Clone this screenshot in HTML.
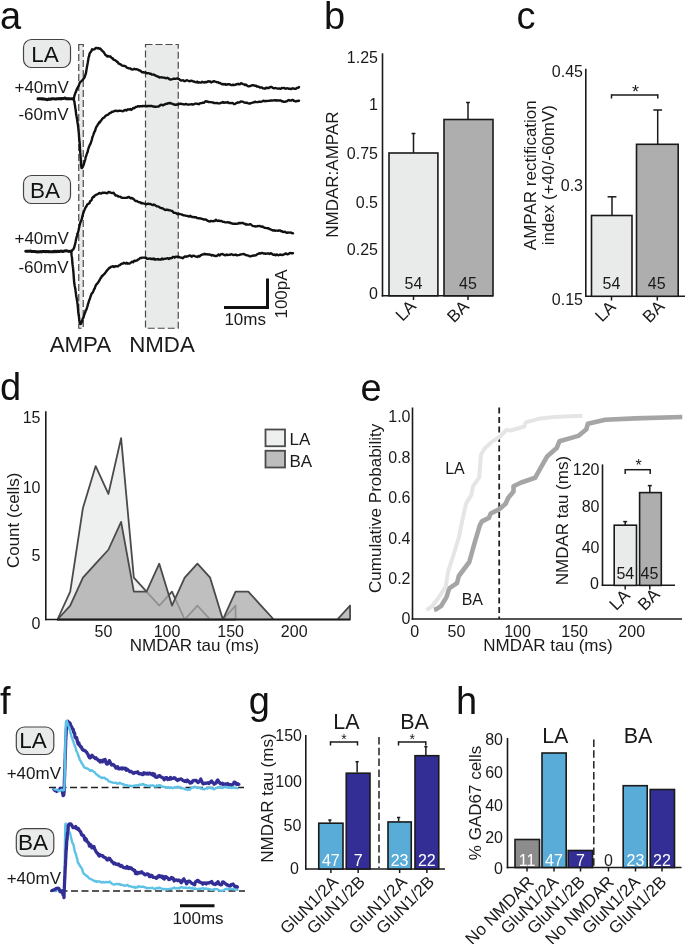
<!DOCTYPE html>
<html><head><meta charset="utf-8"><title>Figure</title>
<style>html,body{margin:0;padding:0;background:#fff;width:685px;height:944px;overflow:hidden}svg{display:block;font-family:"Liberation Sans",sans-serif;filter:blur(0.35px)}</style>
</head><body>
<svg width="685" height="944" viewBox="0 0 685 944" font-family='"Liberation Sans", sans-serif'>
<text x="0" y="29" font-size="38" text-anchor="start" fill="#111">a</text>
<text x="324" y="29" font-size="38" text-anchor="start" fill="#111">b</text>
<text x="516.5" y="28.5" font-size="38" text-anchor="start" fill="#111">c</text>
<text x="0" y="400" font-size="38" text-anchor="start" fill="#111">d</text>
<text x="360.6" y="401" font-size="38" text-anchor="start" fill="#111">e</text>
<text x="0" y="714" font-size="38" text-anchor="start" fill="#111">f</text>
<text x="248.7" y="714.3" font-size="38" text-anchor="start" fill="#111">g</text>
<text x="456" y="714" font-size="38" text-anchor="start" fill="#111">h</text>
<rect x="78.75" y="44.5" width="4.5" height="283.75" fill="#e9ebea" stroke="#4a4a4a" stroke-width="1.2" stroke-dasharray="7 3"/>
<rect x="145.5" y="44.5" width="32.75" height="283.75" fill="#e9ebea" stroke="#4a4a4a" stroke-width="1.2" stroke-dasharray="7 3"/>
<rect x="23.5" y="39.5" width="47" height="28" fill="#e9ebea" stroke="#444" stroke-width="1.2" rx="8"/>
<text x="45.1" y="61.7" font-size="22.5" text-anchor="middle" fill="#111">LA</text>
<rect x="23.5" y="175.5" width="47" height="28" fill="#e9ebea" stroke="#444" stroke-width="1.2" rx="8"/>
<text x="45.1" y="197.7" font-size="22.5" text-anchor="middle" fill="#111">BA</text>
<text x="68.8" y="93" font-size="17" text-anchor="end" fill="#1a1a1a">+40mV</text>
<text x="68.5" y="119.5" font-size="17" text-anchor="end" fill="#1a1a1a">-60mV</text>
<text x="68.8" y="243.7" font-size="17" text-anchor="end" fill="#1a1a1a">+40mV</text>
<text x="68.5" y="272.5" font-size="17" text-anchor="end" fill="#1a1a1a">-60mV</text>
<path d="M38 98.7 L39 98.72 L40 98.62 L41 98.78 L42 99.02 L43 98.83 L44 98.97 L45 99.3 L46 99.25 L47 99.69 L48 99.43 L49 98.99 L50 99.29 L51 99.2 L52 98.73 L53 98.63 L54 98.86 L55 98.99 L56 99.05 L57 98.8 L58 98.78 L59 98.77 L60 98.53 L61 98.99 L62 98.41 L63 98.6 L64 98.32 L65 98.03 L66 98.76 L67 98.62 L68 98.93 L69 98.61 L70 98.77 L71 98.87 L72 98.82 L73 98.9 L73.7 98.7" fill="none" stroke="#111" stroke-width="3" stroke-linejoin="round" stroke-linecap="round"/>
<path d="M73.7 98.7 L74.02 97.52 L74.35 96.22 L74.67 94.86 L74.99 94.23 L75.32 93.03 L75.64 92.06 L75.97 91.88 L76.3 90.57 L76.63 89.88 L76.97 88.91 L77.3 88.44 L77.64 87.69 L77.96 87.13 L78.29 86.58 L78.62 86.13 L78.98 84.87 L79.38 83.81 L79.83 82.5 L80.4 82.09 L81.14 81.45 L81.98 80.67 L82.82 79.74 L83.52 78.69 L84.06 78.12 L84.53 77.26 L84.91 76.08 L85.24 75.16 L85.52 74.25 L85.78 74.01 L86 72.83 L86.21 71.62 L86.39 70.31 L86.57 69.26 L86.74 68.26 L86.9 67.22 L87.07 66.37 L87.23 65.37 L87.4 64.88 L87.58 63.59 L87.77 62.73 L87.96 61.08 L88.17 60.44 L88.37 58.91 L88.57 57.64 L88.77 56.93 L89 56.7 L89.25 55.19 L89.55 53.88 L89.9 52.97 L90.33 52.41 L90.84 51.73 L91.44 50.93 L92.11 49.32 L92.87 49.47 L93.71 49.48 L94.63 49.18 L95.62 48.04 L96.62 47.94 L97.61 48.35 L98.56 48.08 L99.43 48.81 L100.23 48.41 L101.02 49.41 L101.82 50.46 L102.61 51.21 L103.39 51.8 L104.17 52.94 L104.95 54.18 L105.73 55.25 L106.53 55.44 L107.33 56.52 L108.13 55.92 L108.94 56.45 L109.74 56.54 L110.53 56.54 L111.32 57.63 L112.08 58.21 L112.77 58.16 L113.46 59.61 L114.24 59.92 L115.08 60.23 L115.95 60.77 L116.84 61.59 L117.74 62.09 L118.63 63.51 L119.53 64.11 L120.42 64.12 L121.3 65 L122.18 65.66 L123.06 65.83 L123.94 65.81 L124.83 65.99 L125.73 66.36 L126.64 67.64 L127.57 67.83 L128.51 68.28 L129.46 68.34 L130.42 68.5 L131.38 69.35 L132.35 69.44 L133.32 69.42 L134.29 68.81 L135.26 69.25 L136.25 69.14 L137.24 69.4 L138.23 69.83 L139.21 70.5 L140.19 70.47 L141.16 71.45 L142.13 72.23 L143.09 72.16 L144.05 72.67 L145.02 72.49 L145.98 72.69 L146.94 73.41 L147.91 73.17 L148.87 73.12 L149.84 73.84 L150.81 73.7 L151.77 74.6 L152.74 74.66 L153.7 74.55 L154.67 75.22 L155.63 75.6 L156.6 76.08 L157.56 76.53 L158.53 76.75 L159.5 77.52 L160.47 77.35 L161.44 77.26 L162.42 77.46 L163.39 77.63 L164.37 77.58 L165.35 78.06 L166.34 78.22 L167.33 77.72 L168.31 78.22 L169.31 79.21 L170.3 79.61 L171.3 79.39 L172.29 79.2 L173.29 78.76 L174.28 78.82 L175.28 78.89 L176.28 78.55 L177.27 78.34 L178.26 78.81 L179.26 79.21 L180.25 80.1 L181.25 80.55 L182.24 80.38 L183.24 80.27 L184.23 81.18 L185.22 81.05 L186.22 80.4 L187.21 80.28 L188.21 80.77 L189.2 81.19 L190.2 81.04 L191.19 80.66 L192.19 80.94 L193.18 81.51 L194.17 81.45 L195.17 82.04 L196.16 82.35 L197.16 81.61 L198.15 82.73 L199.15 82.24 L200.15 82.66 L201.14 82.67 L202.14 81.76 L203.13 82.21 L204.13 82.56 L205.12 81.88 L206.12 82.37 L207.12 81.95 L208.11 81.25 L209.11 81.55 L210.11 81.46 L211.1 82.42 L212.1 81.9 L213.1 81.51 L214.09 81.2 L215.09 81.66 L216.09 81.94 L217.08 82.3 L218.08 82.25 L219.08 82.98 L220.07 82.86 L221.07 83.7 L222.07 84.35 L223.06 83.94 L224.06 84.52 L225.06 83.9 L226.06 84.78 L227.05 84.5 L228.05 84.24 L229.05 84.26 L230.05 84.53 L231.04 84.94 L232.04 85.07 L233.04 84.73 L234.04 84.98 L235.03 84.85 L236.03 84.44 L237.03 84.3 L238.02 83.74 L239.02 84.38 L240.02 84.23 L241.01 83.21 L242.01 83.54 L243 84.12 L244 84.35 L245 85.05 L245.99 84.57 L246.99 85.45 L247.98 86.18 L248.98 86.43 L249.97 85.99 L250.97 85.89 L251.96 85.19 L252.95 85.26 L253.95 85.43 L254.94 85.77 L255.94 85.66 L256.93 86.66 L257.93 86.53 L258.92 86.84 L259.92 87.56 L260.91 87.54 L261.91 87.36 L262.9 88.34 L263.89 88.34 L264.88 88.73 L265.87 88.01 L266.86 87.73 L267.85 88 L268.84 88.04 L269.84 87.24 L270.84 87.03 L271.83 87.03 L272.83 87.95 L273.83 88.28 L274.83 88.1 L275.83 88.05 L276.83 88.34 L277.83 88.56 L278.83 88.33 L279.83 88.77 L280.83 88.77 L281.83 88.07 L282.83 88.14 L283.83 87.93 L284.83 88.43 L285.83 88.78 L286.82 88.26 L287.82 88.44 L288.82 88.74 L289.82 88.72 L290.82 89.14 L291.82 88.61 L292.82 88.26 L293.81 88.55 L294.81 88.87 L295.81 88.77 L296.81 88.01 L297.81 87.83 L298.81 87.42 L299 87" fill="none" stroke="#111" stroke-width="2.4" stroke-linejoin="round" stroke-linecap="round"/>
<path d="M73.7 98.7 L73.85 99.53 L74.01 100.45 L74.16 100.84 L74.32 101.62 L74.47 102.22 L74.63 103.25 L74.78 104.61 L74.94 105.6 L75.09 105.9 L75.25 107.81 L75.4 108.38 L75.55 109.21 L75.71 110.75 L75.86 111.86 L76.02 112.92 L76.18 114.57 L76.34 115.16 L76.5 115.94 L76.66 117.33 L76.82 117.88 L76.98 118.87 L77.13 119.61 L77.28 120.91 L77.43 122.12 L77.58 123.35 L77.71 123.3 L77.84 124.58 L77.97 125.36 L78.09 126.33 L78.2 127.69 L78.31 128.5 L78.42 128.95 L78.52 130.34 L78.62 131.54 L78.71 132.2 L78.8 132.81 L78.89 133.88 L78.98 135.59 L79.06 136.81 L79.15 138.09 L79.23 138.71 L79.32 139.78 L79.4 141.33 L79.48 141.36 L79.56 141.96 L79.63 142.67 L79.71 143.58 L79.78 144.69 L79.86 146.62 L79.93 147.35 L80 149.15 L80.07 149.31 L80.15 150.73 L80.22 151.75 L80.29 152.71 L80.36 153.19 L80.44 154.4 L80.51 155.15 L80.59 156.8 L80.67 158.1 L80.74 159.1 L80.81 160.75 L80.88 161.56 L80.94 162.64 L81 163.42 L81.07 164.21 L81.13 165.14 L81.21 165.93 L81.31 166.48 L81.49 167.85 L81.99 168 L82.64 167.13 L83.05 166.27 L83.41 165.26 L83.72 164.42 L84.01 163.8 L84.26 162.71 L84.5 161.57 L84.74 161.26 L84.97 160.25 L85.19 159.56 L85.42 158.55 L85.65 156.99 L85.89 156.58 L86.13 156.14 L86.39 155.21 L86.65 154.34 L86.92 153.65 L87.2 152.63 L87.48 152.22 L87.76 151.56 L88.05 149.69 L88.34 148.9 L88.64 147.71 L88.94 146.97 L89.25 146.27 L89.56 145.42 L89.88 144.73 L90.21 144.23 L90.53 143.78 L90.86 142.68 L91.2 141.68 L91.54 140.68 L91.88 139.58 L92.23 137.83 L92.59 136.74 L92.95 135.82 L93.32 134.79 L93.69 133.63 L94.08 132.94 L94.48 131.61 L94.88 131.24 L95.29 130.24 L95.71 128.49 L96.14 127.37 L96.59 126.5 L97.06 126.01 L97.56 125.13 L98.09 124.17 L98.65 123.54 L99.25 122.28 L99.9 122.55 L100.57 120.96 L101.28 120.32 L102 119.2 L102.74 118.29 L103.49 117.89 L104.25 117.52 L105 116.25 L105.75 115.92 L106.52 115.24 L107.31 114.88 L108.12 114.67 L108.96 113.65 L109.82 113.09 L110.72 112.87 L111.65 112 L112.59 111.78 L113.54 111.64 L114.51 110.84 L115.48 110.68 L116.45 110.95 L117.43 110.95 L118.41 110.93 L119.4 110.58 L120.4 110.73 L121.39 110.83 L122.39 111.21 L123.38 111.16 L124.37 110.1 L125.36 109.86 L126.34 110.58 L127.33 109.55 L128.31 109.4 L129.29 109.52 L130.26 108.89 L131.24 109.95 L132.22 109.12 L133.19 107.98 L134.16 108.2 L135.14 107.48 L136.11 106.89 L137.08 106.72 L138.05 106.1 L139.03 106.52 L140 106.23 L140.98 106.18 L141.96 106.21 L142.95 106.02 L143.95 106.18 L144.94 106.02 L145.94 105.99 L146.94 106.22 L147.94 106.05 L148.94 106.03 L149.94 105.98 L150.94 105.99 L151.94 105.98 L152.94 106.55 L153.94 106.52 L154.94 106.71 L155.94 106.88 L156.94 106.67 L157.94 106.61 L158.94 106.25 L159.94 105.47 L160.93 104.7 L161.92 104.85 L162.91 105.35 L163.9 104.75 L164.88 104.46 L165.87 103.86 L166.85 103.81 L167.84 103.32 L168.84 103.27 L169.83 103.03 L170.83 103.28 L171.83 103.69 L172.82 103.96 L173.82 104.6 L174.82 104.53 L175.82 104.97 L176.82 104.4 L177.82 104.48 L178.82 104.27 L179.82 103.72 L180.82 103.76 L181.82 104.06 L182.82 104.12 L183.82 104.47 L184.82 104.35 L185.82 103.97 L186.82 104.28 L187.82 104.66 L188.82 104.57 L189.82 104.33 L190.82 104.43 L191.82 104.13 L192.82 104.64 L193.82 104.26 L194.82 103.66 L195.82 103.65 L196.82 103.72 L197.82 103.85 L198.82 104.2 L199.82 103.47 L200.82 103.13 L201.81 102.97 L202.81 102.77 L203.81 102.76 L204.81 101.81 L205.81 101.28 L206.81 101.46 L207.81 101.73 L208.81 102.02 L209.81 102.11 L210.81 102.12 L211.81 102.38 L212.81 102.37 L213.81 102.98 L214.81 102.96 L215.81 103.08 L216.81 103.03 L217.81 103.26 L218.81 103.34 L219.81 103.4 L220.81 102.94 L221.81 102.68 L222.81 102.06 L223.81 102.82 L224.81 102.51 L225.81 102.36 L226.81 102.63 L227.81 102.07 L228.81 103.12 L229.81 103.16 L230.81 103.04 L231.81 103.18 L232.81 102.95 L233.81 104.03 L234.81 104.13 L235.81 103.32 L236.81 102.91 L237.81 102.35 L238.81 102.49 L239.81 102.2 L240.81 101.47 L241.81 101.6 L242.81 101.6 L243.81 102.33 L244.81 102.59 L245.81 102.76 L246.81 102.58 L247.81 103.08 L248.81 103.49 L249.81 103.61 L250.81 103.07 L251.81 102.84 L252.8 102.53 L253.8 102.39 L254.8 101.76 L255.8 102 L256.8 102.14 L257.8 102.04 L258.8 101.8 L259.8 101.61 L260.8 101.96 L261.8 101.5 L262.8 101.01 L263.8 100.77 L264.79 101.2 L265.79 101.05 L266.79 101.03 L267.79 100.87 L268.79 100.88 L269.79 100.7 L270.79 100.53 L271.79 100.39 L272.79 100.61 L273.79 100.36 L274.79 100.1 L275.79 100.65 L276.78 100.25 L277.78 100.45 L278.78 100.53 L279.78 100.38 L280.78 100.44 L281.78 101.31 L282.78 101.24 L283.78 101.89 L284.78 101.76 L285.78 101.46 L286.78 101.35 L287.78 100.51 L288.78 99.92 L289.78 100.6 L290.78 100.46 L291.78 100.27 L292.78 99.83 L293.78 100.74 L294.78 101.01 L295.78 101.5 L296.78 100.93 L297.78 101.04 L298.78 100.74 L299 100.7" fill="none" stroke="#111" stroke-width="2.4" stroke-linejoin="round" stroke-linecap="round"/>
<path d="M25.7 251.3 L26.7 251.28 L27.7 251.26 L28.7 251.36 L29.7 251.27 L30.7 250.98 L31.7 251.53 L32.7 251.45 L33.7 251.49 L34.7 251.4 L35.7 251.71 L36.7 251.83 L37.7 252.06 L38.7 251.67 L39.7 251.89 L40.7 251.57 L41.7 251.9 L42.7 251.44 L43.7 251.5 L44.7 251.45 L45.7 251.74 L46.7 251.42 L47.7 251.66 L48.7 251.55 L49.7 251.64 L50.7 251.66 L51.7 251.86 L52.7 251.57 L53.7 251.85 L54.7 251.19 L55.7 251.72 L56.7 251.44 L57.7 251.23 L58.7 251.57 L59.7 251.55 L60.7 250.99 L61.7 251.17 L62.7 251.49 L63.7 251.22 L64.7 250.92 L65.7 250.77 L66.7 250.83 L67.7 251.09 L68.7 251.4 L69.7 251.37 L70.7 251.24 L71.2 251.3" fill="none" stroke="#111" stroke-width="3" stroke-linejoin="round" stroke-linecap="round"/>
<path d="M71.2 251.3 L71.83 250.73 L72.45 250.01 L73.01 249.56 L73.48 249.08 L73.89 248.11 L74.27 247.32 L74.62 245.72 L74.96 244.7 L75.27 243.33 L75.58 241.97 L75.86 240.27 L76.14 239.08 L76.4 237.91 L76.65 236.89 L76.88 236.19 L77.12 235.31 L77.35 234.07 L77.57 233.6 L77.8 232.99 L78.03 232.64 L78.26 231.4 L78.5 230.52 L78.75 228.91 L79.02 228.12 L79.3 226.6 L79.6 225.09 L79.91 224 L80.2 222.91 L80.48 222 L80.74 221.76 L80.97 221.16 L81.2 220.57 L81.43 220.17 L81.65 219.19 L81.89 219.16 L82.13 217.45 L82.39 216.14 L82.67 215.4 L82.98 213.95 L83.32 213 L83.69 211.99 L84.13 210.71 L84.59 209.73 L85.07 208.57 L85.59 207.52 L86.12 206.84 L86.67 205.91 L87.23 204.57 L87.8 204.23 L88.38 203.89 L88.95 203.1 L89.52 203.26 L90.08 201.25 L90.62 201.18 L91.16 200.35 L91.69 199.96 L92.22 198.03 L92.77 197.71 L93.35 196.73 L93.98 196.85 L94.66 195.55 L95.39 195.32 L96.18 194.77 L97 194.41 L97.87 194 L98.79 193.4 L99.74 192.88 L100.72 193.62 L101.71 193.26 L102.71 192.63 L103.7 192.95 L104.7 192.64 L105.68 192.96 L106.67 193.29 L107.64 192.86 L108.62 192.03 L109.6 192.24 L110.58 192.54 L111.56 193.04 L112.53 193.08 L113.5 192.67 L114.47 193.88 L115.44 195.51 L116.4 195.47 L117.37 195.63 L118.34 196.47 L119.31 196.66 L120.28 196.71 L121.25 197.47 L122.22 197.84 L123.2 197.88 L124.17 197.84 L125.15 197.83 L126.12 197.81 L127.09 197.71 L128.05 197.15 L129.01 196.91 L129.98 197.89 L130.93 198.26 L131.88 197.91 L132.83 198.62 L133.78 199.16 L134.73 200.32 L135.68 201.07 L136.62 200.93 L137.57 201.44 L138.51 202.14 L139.46 202.18 L140.4 202.36 L141.35 203.25 L142.3 203.02 L143.25 203.38 L144.2 203.58 L145.16 203.86 L146.11 204.24 L147.07 204.09 L148.03 203.71 L148.99 203.94 L149.95 203.9 L150.91 204.12 L151.87 204.8 L152.84 205.08 L153.8 204.57 L154.76 204.95 L155.72 205.66 L156.69 206.41 L157.65 206.42 L158.61 206.66 L159.57 207.4 L160.54 207.76 L161.5 208.29 L162.46 208.2 L163.42 208.9 L164.38 209.58 L165.34 210.03 L166.31 209.72 L167.27 209.74 L168.23 209.97 L169.18 210.26 L170.14 210.41 L171.1 210.65 L172.04 210.84 L172.97 211.9 L173.89 212.82 L174.82 212.88 L175.76 212.96 L176.71 213.53 L177.67 214.2 L178.64 213.74 L179.61 213.97 L180.58 214.17 L181.55 214.34 L182.53 214.89 L183.5 215.3 L184.48 215.35 L185.45 215.58 L186.43 215.9 L187.41 215.86 L188.38 216.33 L189.36 216.57 L190.34 215.77 L191.32 216.66 L192.3 217.06 L193.27 216.86 L194.25 217.28 L195.23 217.32 L196.21 217.29 L197.19 218.15 L198.17 218.2 L199.15 218.44 L200.13 218.27 L201.11 218.75 L202.09 218.83 L203.07 219.26 L204.06 219.53 L205.04 219.55 L206.02 219.53 L207 220.4 L207.99 220.95 L208.97 221.42 L209.96 221.47 L210.94 220.83 L211.93 221.07 L212.92 221.29 L213.91 220.9 L214.9 221.01 L215.89 219.76 L216.88 220.63 L217.87 220.97 L218.87 220.47 L219.86 221.04 L220.86 220.84 L221.86 221.15 L222.85 221.77 L223.85 221.84 L224.85 222.22 L225.84 222.32 L226.84 222.41 L227.84 222.14 L228.84 222.58 L229.83 222.52 L230.83 223.35 L231.83 223.2 L232.82 223.72 L233.82 223.6 L234.81 223.87 L235.81 223.6 L236.8 223.87 L237.79 223.63 L238.79 222.98 L239.78 223.21 L240.77 222.97 L241.77 223.08 L242.76 222.78 L243.75 223.65 L244.74 223.63 L245.73 224.49 L246.72 224.29 L247.71 224.58 L248.69 224.64 L249.68 224.32 L250.67 224.23 L251.66 225.23 L252.64 225.78 L253.63 226.14 L254.62 226.14 L255.6 226.51 L256.59 226.4 L257.58 226.04 L258.56 226.15 L259.55 225.97 L260.53 226.31 L261.52 226.74 L262.5 226.44 L263.49 227.28 L264.47 227.76 L265.45 227.88 L266.44 228.15 L267.42 228.24 L268.4 228.19 L269.38 229 L270.37 229.21 L271.35 229.7 L272.33 230.24 L273.31 230.5 L274.29 230.27 L275.27 230.7 L276.25 230.6 L277.23 230.61 L278.21 230.84 L279.18 230.48 L280.16 230.41 L281.14 231.23 L282.12 231.28 L283.1 232.04 L284.08 231.92 L285.05 231.73 L286.03 232.62 L287.01 232.76 L287.99 232.38 L288.97 232.63 L289.94 232.61 L290.92 232.57 L291.9 233.15 L292.88 233.12 L293 233.3" fill="none" stroke="#111" stroke-width="2.4" stroke-linejoin="round" stroke-linecap="round"/>
<path d="M71.2 251.3 L71.31 252.42 L71.42 253.71 L71.53 254.86 L71.65 255.66 L71.76 256.16 L71.87 256.95 L71.98 257.49 L72.09 258.99 L72.2 260.62 L72.31 262.45 L72.41 263.18 L72.52 264.23 L72.62 264.66 L72.72 265.41 L72.82 266.68 L72.91 267.26 L73 267.01 L73.08 268.89 L73.16 269.69 L73.24 270.45 L73.32 271.53 L73.39 271.59 L73.47 272.78 L73.55 274.06 L73.63 274.95 L73.71 276.56 L73.8 277.81 L73.89 278.74 L73.99 279.82 L74.09 281.62 L74.2 282.18 L74.32 283.89 L74.45 283.83 L74.59 284.77 L74.73 285.94 L74.88 286.9 L75.04 287.33 L75.21 288.58 L75.37 289.28 L75.54 290.76 L75.71 291.99 L75.88 293.31 L76.05 294.66 L76.22 295.59 L76.38 297.15 L76.54 297.46 L76.7 298.26 L76.84 299.58 L76.99 300.51 L77.12 300.9 L77.25 302.13 L77.36 302.74 L77.48 303.92 L77.58 304.29 L77.69 305.5 L77.79 306.35 L77.89 307.68 L77.99 309.1 L78.09 309.75 L78.2 311.6 L78.3 312.59 L78.42 313.23 L78.54 314.31 L78.68 314.96 L78.82 315.81 L78.97 317.19 L79.13 318.24 L79.29 319.71 L79.47 320.52 L79.65 322.83 L79.87 323.42 L80.14 323.89 L80.59 323.96 L81.27 323.47 L81.66 321.85 L82.01 321.53 L82.37 319.88 L82.74 318.68 L83.12 317.97 L83.48 317.65 L83.84 316.23 L84.19 314.91 L84.54 313.82 L84.88 312.96 L85.22 312.55 L85.55 310.36 L85.87 310.64 L86.19 309.87 L86.5 309.31 L86.79 308.25 L87.08 307.31 L87.35 306.65 L87.62 305.84 L87.9 304.18 L88.17 303.62 L88.44 302.96 L88.73 301.79 L89.02 300.81 L89.32 299.78 L89.64 299.31 L89.97 298.42 L90.32 297.23 L90.67 296.06 L91.03 295.18 L91.4 294.18 L91.78 293.47 L92.17 293.33 L92.57 292.64 L92.98 292.09 L93.41 291.21 L93.85 289.64 L94.31 288.94 L94.78 288.38 L95.27 286.53 L95.76 285.6 L96.28 284.51 L96.8 284.11 L97.33 283.5 L97.87 282.79 L98.42 281.9 L98.98 281.17 L99.54 280.15 L100.12 279.07 L100.71 277.89 L101.3 277.65 L101.91 275.94 L102.53 275.81 L103.14 275.23 L103.75 274.39 L104.35 274.16 L104.96 273.12 L105.59 272.48 L106.27 271.39 L106.98 270.49 L107.74 269.63 L108.55 268.81 L109.41 267.65 L110.3 267.51 L111.22 266.71 L112.16 266.6 L113.11 266.25 L114.08 267 L115.05 266.27 L116.02 266.26 L117 266.43 L117.98 266.22 L118.96 265.39 L119.94 265.17 L120.92 264.11 L121.9 263.72 L122.88 263.6 L123.85 262.75 L124.82 263.16 L125.79 263.52 L126.74 262.8 L127.7 263.74 L128.64 263.37 L129.59 263.51 L130.54 262.94 L131.48 262.17 L132.43 261.66 L133.38 262.14 L134.34 260.62 L135.31 260.98 L136.27 260.49 L137.23 260.48 L138.19 259.38 L139.16 259.16 L140.13 257.85 L141.11 258.1 L142.09 257.65 L143.09 257.62 L144.08 257.59 L145.08 257.76 L146.08 257.81 L147.08 258.81 L148.08 258.68 L149.07 258.63 L150.06 258.49 L151.05 259.11 L152.04 258.64 L153.03 259.19 L154.02 258.57 L155.01 259.74 L156 259.3 L157 259.43 L157.99 259.01 L158.99 259.65 L159.99 259.47 L160.99 259.61 L161.98 258.54 L162.97 259.35 L163.94 258.89 L164.91 258.78 L165.88 258.57 L166.83 258.45 L167.79 258.09 L168.75 258.9 L169.71 258.22 L170.69 258.25 L171.67 258.1 L172.67 257.05 L173.66 256.88 L174.66 257.64 L175.66 256.78 L176.66 256.6 L177.66 256.97 L178.66 256.69 L179.65 257.3 L180.65 257.52 L181.65 257.65 L182.65 258.19 L183.64 257.47 L184.64 256.55 L185.64 256.56 L186.64 256.7 L187.63 256.24 L188.63 256.03 L189.63 255.46 L190.63 255.64 L191.62 256.71 L192.62 255.88 L193.62 255.69 L194.62 256.1 L195.61 256.46 L196.61 256.61 L197.61 257.03 L198.6 255.92 L199.6 256.53 L200.59 255.41 L201.59 254.87 L202.59 254.45 L203.59 254.41 L204.59 253.71 L205.59 254.38 L206.59 254.18 L207.59 254.46 L208.59 254.4 L209.59 254.48 L210.59 254.84 L211.59 255.52 L212.59 254.94 L213.59 255.6 L214.59 255.75 L215.59 255.96 L216.59 255.98 L217.59 255.42 L218.59 254.45 L219.59 255.51 L220.59 254.5 L221.59 254.16 L222.59 254.04 L223.59 254.65 L224.59 255.07 L225.59 255.31 L226.59 254.51 L227.59 255.07 L228.59 254.83 L229.59 254.85 L230.59 254.33 L231.59 254.27 L232.59 254.62 L233.59 255.11 L234.59 254.9 L235.59 254.52 L236.59 255.26 L237.59 255.18 L238.59 255.07 L239.59 254.86 L240.59 254.33 L241.59 254.38 L242.59 254.16 L243.59 254 L244.59 254.31 L245.59 255.03 L246.59 255.1 L247.59 255.5 L248.59 255.59 L249.59 256.34 L250.59 256.23 L251.59 255.95 L252.59 255.89 L253.59 255.41 L254.59 255.56 L255.59 255.42 L256.59 254.75 L257.59 254.06 L258.59 253.68 L259.59 253.18 L260.59 253.64 L261.59 252.9 L262.59 252.92 L263.59 253.63 L264.59 253.38 L265.58 253.92 L266.58 253.63 L267.58 253.35 L268.58 253.46 L269.58 254.03 L270.58 253.29 L271.58 253.43 L272.58 254.58 L273.58 254.7 L274.58 254.56 L275.57 255.36 L276.57 254.37 L277.57 254.94 L278.57 255.28 L279.57 254.69 L280.57 254.56 L281.56 254.97 L282.56 255 L283.56 254.58 L284.56 254.22 L285.56 253.44 L286.55 253.75 L287.55 254.41 L288.55 253.98 L289.55 253.12 L290.54 253 L291.54 253.29 L292.54 253.31 L293 253.3" fill="none" stroke="#111" stroke-width="2.4" stroke-linejoin="round" stroke-linecap="round"/>
<line x1="224" y1="307.5" x2="269" y2="307.5" stroke="#111" stroke-width="3"/>
<line x1="267.5" y1="278.5" x2="267.5" y2="309" stroke="#111" stroke-width="3"/>
<text x="245.2" y="325.3" font-size="17" text-anchor="middle" fill="#1a1a1a">10ms</text>
<text x="0" y="0" font-size="17" text-anchor="middle" fill="#1a1a1a" transform="translate(287 294) rotate(-90)">100pA</text>
<text x="80.4" y="352" font-size="22.3" text-anchor="middle" fill="#1a1a1a">AMPA</text>
<text x="162" y="352" font-size="22.3" text-anchor="middle" fill="#1a1a1a">NMDA</text>
<line x1="382.5" y1="53.3" x2="382.5" y2="296.6" stroke="#1a1a1a" stroke-width="1.6"/>
<line x1="381.7" y1="295.8" x2="493" y2="295.8" stroke="#1a1a1a" stroke-width="1.6"/>
<rect x="389" y="153" width="48.9" height="142.8" fill="#e9ebea" stroke="#1a1a1a" stroke-width="1.6"/>
<rect x="444" y="119.5" width="49" height="176.3" fill="#aeaeae" stroke="#1a1a1a" stroke-width="1.6"/>
<line x1="413.5" y1="153" x2="413.5" y2="133.5" stroke="#1a1a1a" stroke-width="1.5"/>
<line x1="411.6" y1="133.5" x2="415.4" y2="133.5" stroke="#1a1a1a" stroke-width="1.5"/>
<line x1="468" y1="119.5" x2="468" y2="102.5" stroke="#1a1a1a" stroke-width="1.5"/>
<line x1="466.1" y1="102.5" x2="469.9" y2="102.5" stroke="#1a1a1a" stroke-width="1.5"/>
<text x="378" y="62.9" font-size="16" text-anchor="end" fill="#1a1a1a">1.25</text>
<text x="378" y="109.5" font-size="16" text-anchor="end" fill="#1a1a1a">1</text>
<text x="378" y="158.9" font-size="16" text-anchor="end" fill="#1a1a1a">0.75</text>
<text x="378" y="208.4" font-size="16" text-anchor="end" fill="#1a1a1a">0.5</text>
<text x="378" y="254.7" font-size="16" text-anchor="end" fill="#1a1a1a">0.25</text>
<text x="378" y="299.1" font-size="16" text-anchor="end" fill="#1a1a1a">0</text>
<text x="413.5" y="289.3" font-size="16" text-anchor="middle" fill="#1a1a1a">54</text>
<text x="468" y="289.3" font-size="16" text-anchor="middle" fill="#1a1a1a">45</text>
<line x1="413.5" y1="295.8" x2="413.5" y2="300" stroke="#1a1a1a" stroke-width="1.5"/>
<line x1="468" y1="295.8" x2="468" y2="300" stroke="#1a1a1a" stroke-width="1.5"/>
<text x="0" y="0" font-size="17" text-anchor="middle" fill="#1a1a1a" transform="translate(337.8 174.6) rotate(-90)">NMDAR:AMPAR</text>
<text x="0" y="0" font-size="17" text-anchor="end" fill="#1a1a1a" transform="translate(417.1 307.2) rotate(-45)">LA</text>
<text x="0" y="0" font-size="17" text-anchor="end" fill="#1a1a1a" transform="translate(470 307.4) rotate(-45)">BA</text>
<line x1="585.8" y1="68.8" x2="585.8" y2="297.1" stroke="#1a1a1a" stroke-width="1.6"/>
<line x1="585" y1="296.3" x2="685" y2="296.3" stroke="#1a1a1a" stroke-width="1.6"/>
<rect x="591.5" y="215.5" width="40.5" height="80.8" fill="#e9ebea" stroke="#1a1a1a" stroke-width="1.6"/>
<rect x="636.5" y="144.3" width="41.7" height="152" fill="#aeaeae" stroke="#1a1a1a" stroke-width="1.6"/>
<line x1="612" y1="215.5" x2="612" y2="196.8" stroke="#1a1a1a" stroke-width="1.5"/>
<line x1="607.6" y1="196.8" x2="616.4" y2="196.8" stroke="#1a1a1a" stroke-width="1.5"/>
<line x1="657.7" y1="144.3" x2="657.7" y2="110" stroke="#1a1a1a" stroke-width="1.5"/>
<line x1="653.3" y1="110" x2="662.1" y2="110" stroke="#1a1a1a" stroke-width="1.5"/>
<line x1="611.5" y1="95" x2="657.8" y2="95" stroke="#1a1a1a" stroke-width="1.5"/>
<line x1="611.5" y1="94.3" x2="611.5" y2="98.5" stroke="#1a1a1a" stroke-width="1.5"/>
<line x1="657.8" y1="94.3" x2="657.8" y2="98.5" stroke="#1a1a1a" stroke-width="1.5"/>
<text x="635.5" y="97.5" font-size="18" text-anchor="middle" fill="#1a1a1a">*</text>
<text x="583" y="77.2" font-size="16" text-anchor="end" fill="#1a1a1a">0.45</text>
<text x="583" y="190.9" font-size="16" text-anchor="end" fill="#1a1a1a">0.3</text>
<text x="583" y="304.7" font-size="16" text-anchor="end" fill="#1a1a1a">0.15</text>
<text x="611.5" y="289.3" font-size="16" text-anchor="middle" fill="#1a1a1a">54</text>
<text x="656.7" y="289.3" font-size="16" text-anchor="middle" fill="#1a1a1a">45</text>
<line x1="611.5" y1="296.3" x2="611.5" y2="300.5" stroke="#1a1a1a" stroke-width="1.5"/>
<line x1="657.3" y1="296.3" x2="657.3" y2="300.5" stroke="#1a1a1a" stroke-width="1.5"/>
<text x="0" y="0" font-size="17" text-anchor="middle" fill="#1a1a1a" transform="translate(535.6 175.2) rotate(-90)">AMPAR rectification</text>
<text x="0" y="0" font-size="17" text-anchor="middle" fill="#1a1a1a" transform="translate(553.8 175.2) rotate(-90)">index (+40/-60mV)</text>
<text x="0" y="0" font-size="17" text-anchor="end" fill="#1a1a1a" transform="translate(616.8 308.1) rotate(-45)">LA</text>
<text x="0" y="0" font-size="17" text-anchor="end" fill="#1a1a1a" transform="translate(665.6 307.6) rotate(-45)">BA</text>
<path d="M57.5 619.5 L70.22 591.6 L82.94 507.9 L95.66 466.05 L108.38 493.95 L121.1 438.15 L133.82 577.65 L146.54 591.6 L159.26 605.55 L171.98 591.6 L184.7 619.5 L197.42 605.55 L210.14 619.5 L222.86 619.5 L235.58 605.55 L235.58 619.5 Z" fill="#eef0ef" stroke="#4a4a4a" stroke-width="1.8" stroke-linejoin="round"/>
<path d="M57.5 619.5 L70.22 605.55 L82.94 577.65 L95.66 563.7 L108.38 549.75 L121.1 521.85 L133.82 591.6 L146.54 591.6 L159.26 563.7 L171.98 605.55 L184.7 577.65 L197.42 563.7 L210.14 577.65 L222.86 619.5 L235.58 591.6 L248.3 591.6 L261.02 605.55 L273.74 619.5 L286.46 619.5 L299.18 619.5 L311.9 619.5 L324.62 619.5 L337.34 619.5 L350.06 605.55 L350.06 619.5 Z" fill="rgba(170,170,170,0.75)" stroke="#4a4a4a" stroke-width="1.8" stroke-linejoin="round"/>
<line x1="45.8" y1="411.3" x2="45.8" y2="620.3" stroke="#1a1a1a" stroke-width="1.6"/>
<line x1="45" y1="619.5" x2="350" y2="619.5" stroke="#1a1a1a" stroke-width="1.6"/>
<text x="40.5" y="423.3" font-size="16" text-anchor="end" fill="#1a1a1a">15</text>
<text x="40.5" y="492.6" font-size="16" text-anchor="end" fill="#1a1a1a">10</text>
<text x="40.5" y="560.6" font-size="16" text-anchor="end" fill="#1a1a1a">5</text>
<text x="40.5" y="628.6" font-size="16" text-anchor="end" fill="#1a1a1a">0</text>
<text x="103.4" y="636.5" font-size="16" text-anchor="middle" fill="#1a1a1a">50</text>
<text x="167" y="636.5" font-size="16" text-anchor="middle" fill="#1a1a1a">100</text>
<text x="230.6" y="636.5" font-size="16" text-anchor="middle" fill="#1a1a1a">150</text>
<text x="294.2" y="636.5" font-size="16" text-anchor="middle" fill="#1a1a1a">200</text>
<text x="194.5" y="651" font-size="17" text-anchor="middle" fill="#1a1a1a">NMDAR tau (ms)</text>
<text x="0" y="0" font-size="17" text-anchor="middle" fill="#1a1a1a" transform="translate(19.4 520.4) rotate(-90)">Count (cells)</text>
<rect x="265.5" y="429.5" width="19.5" height="16.75" fill="#eef0ef" stroke="#4a4a4a" stroke-width="1.8"/>
<rect x="265.5" y="450.75" width="19.5" height="16.75" fill="#bdbdbd" stroke="#4a4a4a" stroke-width="1.8"/>
<text x="289.5" y="444.5" font-size="17" text-anchor="start" fill="#1a1a1a">LA</text>
<text x="289.5" y="467" font-size="17" text-anchor="start" fill="#1a1a1a">BA</text>
<line x1="412.5" y1="407.5" x2="412.5" y2="619.8" stroke="#1a1a1a" stroke-width="1.6"/>
<line x1="411.7" y1="619" x2="682" y2="619" stroke="#1a1a1a" stroke-width="1.6"/>
<line x1="499.2" y1="407.5" x2="499.2" y2="619" stroke="#222" stroke-width="1.8" stroke-dasharray="6 3.5"/>
<path d="M434 609.8 L436 609.3 L441.3 605.8 L446.5 597.1 L449.2 588.3 L457 583.1 L458.8 576 L469.3 562 L474.6 542.8 L479.8 525.3 L481.9 521.4 L488.9 517.9 L490.7 513.5 L499.5 509.1 L505.6 503.8 L508.3 497.7 L513.5 491.5 L513.5 486.2 L520.6 482.7 L535.1 477.8 L541.9 465.6 L547.3 456.2 L556.7 448.1 L559.4 441.3 L578.3 435.9 L586.4 429.2 L587.8 423.8 L605.3 419.7 L635 418.4 L682.3 417" fill="none" stroke="#a5a5a5" stroke-width="4.6" stroke-linejoin="round" stroke-linecap="butt"/>
<path d="M426.4 610.2 L432.5 605.8 L437.8 598.8 L445.7 586.6 L448.3 570.8 L453.5 555 L458.8 537.5 L462.5 519.7 L466 503.8 L471.3 495 L473.1 486.2 L479.2 477.4 L481 454.5 L485.4 447.5 L492.4 441.4 L499.5 437 L506.5 430 L510.8 430.5 L524.3 426.5 L525.7 422.4 L540.5 418.4 L554 417 L582.4 415.7" fill="none" stroke="#e4e6e5" stroke-width="4" stroke-linejoin="round" stroke-linecap="butt"/>
<text x="410.5" y="422.2" font-size="16" text-anchor="end" fill="#1a1a1a">1.0</text>
<text x="410.5" y="463.1" font-size="16" text-anchor="end" fill="#1a1a1a">0.8</text>
<text x="410.5" y="503.3" font-size="16" text-anchor="end" fill="#1a1a1a">0.6</text>
<text x="410.5" y="543.8" font-size="16" text-anchor="end" fill="#1a1a1a">0.4</text>
<text x="410.5" y="583.8" font-size="16" text-anchor="end" fill="#1a1a1a">0.2</text>
<text x="410.5" y="624.3" font-size="16" text-anchor="end" fill="#1a1a1a">0</text>
<text x="414.6" y="636.5" font-size="16" text-anchor="middle" fill="#1a1a1a">0</text>
<text x="456.5" y="636.5" font-size="16" text-anchor="middle" fill="#1a1a1a">50</text>
<text x="517.5" y="636.5" font-size="16" text-anchor="middle" fill="#1a1a1a">100</text>
<text x="574.6" y="636.5" font-size="16" text-anchor="middle" fill="#1a1a1a">150</text>
<text x="631.7" y="636.5" font-size="16" text-anchor="middle" fill="#1a1a1a">200</text>
<text x="548" y="650.5" font-size="17" text-anchor="middle" fill="#1a1a1a">NMDAR tau (ms)</text>
<text x="0" y="0" font-size="17" text-anchor="middle" fill="#1a1a1a" transform="translate(380.8 508.4) rotate(-90)">Cumulative Probability</text>
<text x="455" y="473.7" font-size="16" text-anchor="middle" fill="#1a1a1a">LA</text>
<text x="472.3" y="605" font-size="16" text-anchor="middle" fill="#1a1a1a">BA</text>
<line x1="602.5" y1="464.4" x2="602.5" y2="586" stroke="#1a1a1a" stroke-width="1.6"/>
<line x1="601.7" y1="585.2" x2="675" y2="585.2" stroke="#1a1a1a" stroke-width="1.6"/>
<rect x="614.2" y="525.2" width="22.3" height="60.2" fill="#e9ebea" stroke="#1a1a1a" stroke-width="1.6"/>
<rect x="639.6" y="492.6" width="21.7" height="92.8" fill="#aeaeae" stroke="#1a1a1a" stroke-width="1.6"/>
<line x1="625.2" y1="525.2" x2="625.2" y2="521.6" stroke="#1a1a1a" stroke-width="1.5"/>
<line x1="623.2" y1="521.6" x2="627.2" y2="521.6" stroke="#1a1a1a" stroke-width="1.5"/>
<line x1="649.8" y1="492.6" x2="649.8" y2="485.6" stroke="#1a1a1a" stroke-width="1.5"/>
<line x1="647.8" y1="485.6" x2="651.8" y2="485.6" stroke="#1a1a1a" stroke-width="1.5"/>
<line x1="625.2" y1="469.7" x2="650.2" y2="469.7" stroke="#1a1a1a" stroke-width="1.5"/>
<line x1="625.2" y1="469" x2="625.2" y2="474" stroke="#1a1a1a" stroke-width="1.5"/>
<line x1="650.2" y1="469" x2="650.2" y2="474" stroke="#1a1a1a" stroke-width="1.5"/>
<text x="638.6" y="471" font-size="16" text-anchor="middle" fill="#1a1a1a">*</text>
<text x="599.5" y="474.6" font-size="16" text-anchor="end" fill="#1a1a1a">120</text>
<text x="599.5" y="512.4" font-size="16" text-anchor="end" fill="#1a1a1a">80</text>
<text x="599.5" y="553" font-size="16" text-anchor="end" fill="#1a1a1a">40</text>
<text x="599" y="589.1" font-size="16" text-anchor="end" fill="#1a1a1a">0</text>
<text x="625.3" y="579" font-size="16" text-anchor="middle" fill="#1a1a1a">54</text>
<text x="649.5" y="579" font-size="16" text-anchor="middle" fill="#1a1a1a">45</text>
<line x1="625.2" y1="585.4" x2="625.2" y2="589.5" stroke="#1a1a1a" stroke-width="1.5"/>
<line x1="649.8" y1="585.4" x2="649.8" y2="589.5" stroke="#1a1a1a" stroke-width="1.5"/>
<text x="0" y="0" font-size="17" text-anchor="middle" fill="#1a1a1a" transform="translate(567.8 520.6) rotate(-90)">NMDAR tau (ms)</text>
<text x="0" y="0" font-size="17" text-anchor="end" fill="#1a1a1a" transform="translate(631 596.5) rotate(-45)">LA</text>
<text x="0" y="0" font-size="17" text-anchor="end" fill="#1a1a1a" transform="translate(660.7 595.4) rotate(-45)">BA</text>
<rect x="16.3" y="727" width="37.5" height="27.5" fill="#e9ebea" stroke="#444" stroke-width="1.2" rx="8"/>
<text x="33" y="748.3" font-size="22.5" text-anchor="middle" fill="#111">LA</text>
<rect x="16.3" y="828.7" width="37.5" height="27.5" fill="#e9ebea" stroke="#444" stroke-width="1.2" rx="8"/>
<text x="33" y="850" font-size="22.5" text-anchor="middle" fill="#111">BA</text>
<text x="61" y="778.6" font-size="17" text-anchor="end" fill="#1a1a1a">+40mV</text>
<text x="61" y="884" font-size="17" text-anchor="end" fill="#1a1a1a">+40mV</text>
<line x1="49" y1="787.5" x2="244" y2="787.5" stroke="#222" stroke-width="1.5" stroke-dasharray="7 3.5"/>
<line x1="50" y1="891" x2="245" y2="891" stroke="#222" stroke-width="1.5" stroke-dasharray="7 3.5"/>
<path d="M54 789.5 L54.86 790.51 L55.72 790.58 L56.59 791.43 L57.47 790.78 L58.37 790.61 L59.25 790.44 L60.12 788.55 L60.99 789.03 L61.87 788.86 L62.41 790.78 L62.7 793.87 L62.92 793.54 L63.12 795.68 L63.34 794.43 L63.72 795.19 L63.88 793.1 L63.97 792.97 L64.04 790.8 L64.09 792.11 L64.13 789.94 L64.17 790.8 L64.2 789.97 L64.23 789.59 L64.26 786.45 L64.28 785.36 L64.31 783.71 L64.33 784.9 L64.36 781.84 L64.38 781.84 L64.41 779.86 L64.44 779.53 L64.46 779.66 L64.49 778.59 L64.52 777.86 L64.55 776.15 L64.59 775.9 L64.62 775.9 L64.65 774.4 L64.68 772.86 L64.71 770.56 L64.74 770.72 L64.77 769.74 L64.8 769.44 L64.83 769.47 L64.86 769.82 L64.89 768.2 L64.92 768.08 L64.95 765.12 L64.98 763 L65.01 761.31 L65.03 760.55 L65.06 760.93 L65.09 760.21 L65.12 758.7 L65.15 757.95 L65.18 758.13 L65.21 757.88 L65.24 756.57 L65.26 754.25 L65.29 752.9 L65.32 753.21 L65.35 753.16 L65.38 752.48 L65.41 750.22 L65.44 749.35 L65.47 748.69 L65.5 747.47 L65.54 747.36 L65.57 746.98 L65.6 744.15 L65.63 743.85 L65.66 741.74 L65.7 740.75 L65.73 738.84 L65.77 739.61 L65.8 739.93 L65.84 739.91 L65.88 737.28 L65.92 736.04 L65.96 736.41 L66 735.64 L66.06 735.35 L66.11 734.49 L66.16 732.56 L66.22 730.79 L66.28 730.16 L66.35 728.81 L66.43 728.75 L66.51 727.71 L66.62 728.43 L66.73 726.32 L66.85 726.17 L67 724.13 L67.16 722.54 L67.31 722.26 L67.49 721.57 L67.91 721.34 L68.61 722.67 L69.06 723.15 L69.47 722.62 L69.88 723.16 L70.3 723.9 L70.74 725.62 L71.17 726.33 L71.6 726.68 L72.03 727.72 L72.44 728.53 L72.85 729.54 L73.24 729.39 L73.61 732.24 L73.97 731.95 L74.31 733.39 L74.62 733.27 L74.93 735.7 L75.22 737.51 L75.52 737.43 L75.81 737.96 L76.1 737.33 L76.39 737.3 L76.69 738.13 L76.99 739.71 L77.32 741.23 L77.66 742.62 L78.02 743.87 L78.43 744.21 L78.86 742.76 L79.33 745.16 L79.83 745.43 L80.37 746.72 L80.94 746.49 L81.53 747.2 L82.12 748.95 L82.72 749.8 L83.35 750.38 L83.98 750.14 L84.63 750.65 L85.3 750.86 L85.97 751.87 L86.67 752.18 L87.37 753.61 L88.09 754.65 L88.83 756.7 L89.59 757.9 L90.35 757.92 L91.14 756.13 L91.93 755.2 L92.72 756.13 L93.52 757.04 L94.33 757.55 L95.14 758.42 L95.96 757.82 L96.78 759.09 L97.6 759.31 L98.43 760.69 L99.27 760.47 L100.1 762.08 L100.93 760.39 L101.77 761.63 L102.6 761.83 L103.43 760 L104.26 759.94 L105.09 759.4 L105.93 762.72 L106.76 764.09 L107.59 763.98 L108.43 762.83 L109.26 760.65 L110.1 762.09 L110.94 763.73 L111.78 765.03 L112.62 764.57 L113.46 764.59 L114.3 765.59 L115.15 766.61 L116 768.05 L116.85 767.2 L117.7 766.74 L118.56 768.83 L119.41 768.87 L120.27 768.69 L121.13 767.93 L121.98 769.09 L122.85 767.92 L123.71 768.3 L124.57 768.74 L125.44 768.19 L126.3 770.3 L127.17 769.15 L128.04 770.14 L128.91 770.64 L129.79 771.7 L130.66 771.34 L131.54 771.7 L132.42 772.4 L133.3 773.29 L134.18 773.07 L135.06 772.38 L135.94 772.57 L136.83 772.64 L137.71 771.84 L138.6 773.53 L139.48 773.85 L140.37 773.76 L141.25 773.71 L142.14 774.61 L143.02 774.66 L143.9 772.82 L144.79 773.73 L145.67 773.21 L146.55 773.82 L147.44 773.18 L148.32 774.12 L149.2 773.06 L150.09 773.11 L150.97 774.16 L151.86 774.69 L152.74 773.62 L153.62 775.43 L154.51 774.09 L155.39 776.92 L156.27 777.15 L157.16 777.43 L158.04 776.58 L158.92 775.6 L159.8 775.64 L160.68 776.89 L161.56 777.05 L162.44 777.6 L163.32 778.13 L164.2 779.8 L165.09 777.8 L165.97 777.75 L166.85 777.74 L167.73 779.48 L168.62 778.62 L169.5 779.33 L170.39 777.42 L171.27 778.92 L172.16 778.38 L173.05 778.46 L173.94 777.72 L174.83 777.78 L175.72 779.06 L176.61 779.81 L177.5 780.52 L178.4 779.36 L179.29 779.6 L180.18 779.07 L181.07 778.97 L181.97 779.46 L182.86 780.53 L183.75 780.83 L184.65 781.31 L185.54 780.66 L186.43 781.51 L187.33 780.11 L188.22 781.15 L189.12 781.59 L190.01 783.12 L190.91 782.96 L191.8 782.75 L192.7 780.83 L193.6 780.31 L194.49 780.56 L195.39 780.52 L196.28 780.5 L197.18 781.79 L198.08 782.61 L198.97 781.83 L199.87 780.73 L200.77 779.02 L201.67 781.28 L202.56 783.12 L203.46 783.88 L204.36 783.26 L205.26 783.31 L206.16 783.05 L207.06 783.04 L207.95 782.68 L208.85 783.46 L209.75 782.58 L210.65 781.91 L211.55 780.88 L212.45 782.33 L213.34 782.97 L214.24 784.22 L215.14 783.21 L216.04 783.13 L216.94 780.94 L217.84 780.01 L218.73 782 L219.63 782.51 L220.53 783.94 L221.43 783.79 L222.33 783.28 L223.23 784.32 L224.13 784.26 L225.02 783.93 L225.92 784.17 L226.82 785.02 L227.72 783.54 L228.62 784.49 L229.52 784.74 L230.42 784.53 L231.32 785.32 L232.22 784.58 L233.12 784.37 L234.02 782.41 L234.91 782.06 L235.81 783.3 L236.71 784.53 L237.61 783.66 L238.51 784.3 L238.9 784.3" fill="none" stroke="#332e96" stroke-width="3.3" stroke-linejoin="round" stroke-linecap="round"/>
<path d="M54.3 789.4 L55.28 789.44 L56.26 789.62 L57.25 789.7 L58.25 790.51 L59.24 790.84 L60.23 790.96 L61.22 789.96 L62.21 789.76 L63 790.23 L63.81 790.2 L64.11 789.87 L64.26 788.46 L64.36 786.84 L64.42 785.97 L64.48 784.28 L64.52 783.3 L64.55 783.13 L64.57 782.6 L64.6 781.13 L64.61 780.55 L64.63 779.64 L64.65 778.34 L64.66 777.54 L64.68 776.95 L64.69 776.51 L64.71 774.68 L64.73 774.09 L64.75 772.46 L64.77 770.94 L64.79 770.05 L64.81 769.51 L64.83 768.5 L64.86 766.98 L64.88 766.6 L64.9 765.6 L64.92 764.47 L64.94 762.96 L64.96 762.45 L64.98 761.02 L65 760.3 L65.02 759.45 L65.03 757.74 L65.05 756.78 L65.07 756.54 L65.09 755.24 L65.11 753.57 L65.13 753 L65.14 752.32 L65.16 751.28 L65.18 750.78 L65.2 749.41 L65.22 748.78 L65.24 748.76 L65.26 747.37 L65.28 745.57 L65.29 745.17 L65.31 743.39 L65.33 742.31 L65.35 740.37 L65.38 740.08 L65.4 738.14 L65.42 738.28 L65.44 736.54 L65.46 735.4 L65.49 734.88 L65.51 734.7 L65.54 732.99 L65.56 731.91 L65.59 730.95 L65.61 729.75 L65.64 728.08 L65.67 726.67 L65.69 726.34 L65.72 726.41 L65.75 725.45 L65.79 724.7 L65.84 724.48 L65.89 723.27 L65.97 722.31 L66.1 721.15 L66.47 720.67 L66.8 720.82 L67.08 721.88 L67.39 722.73 L67.71 724.26 L68.03 724.4 L68.33 725.31 L68.63 726.37 L68.92 726.97 L69.22 727.08 L69.51 729.39 L69.81 729.86 L70.1 731.06 L70.4 732.91 L70.7 733.52 L71.01 734.38 L71.31 735.99 L71.62 736.79 L71.92 737.39 L72.22 738.6 L72.52 739.26 L72.82 740.26 L73.12 741 L73.42 741.38 L73.72 742.52 L74.03 744.03 L74.34 744.54 L74.65 745.65 L74.97 746.41 L75.29 747 L75.62 747.42 L75.95 749.45 L76.29 750.51 L76.64 751.65 L77 751.98 L77.36 752.75 L77.74 753.51 L78.11 755.14 L78.5 755.72 L78.89 757.29 L79.29 758.31 L79.7 759.65 L80.12 760.42 L80.55 760.71 L81 761.35 L81.46 762.92 L81.95 763.23 L82.46 764.18 L83.01 764.92 L83.62 766.48 L84.28 767.23 L85.01 767.82 L85.79 767.91 L86.59 768.6 L87.4 768.5 L88.25 769.07 L89.13 769.61 L90.03 770.87 L90.94 770.34 L91.83 770.23 L92.71 771.09 L93.57 771.54 L94.43 771.92 L95.27 772.98 L96.1 774.17 L96.94 774.66 L97.77 775.02 L98.61 776.27 L99.45 776.63 L100.29 776.8 L101.14 777.76 L101.99 777.69 L102.86 778 L103.74 777.6 L104.62 777.6 L105.52 778.96 L106.42 779.18 L107.33 779.39 L108.25 780.84 L109.18 781.63 L110.11 781.59 L111.05 782.1 L111.99 782.33 L112.95 782.55 L113.91 782.75 L114.87 782.92 L115.84 782.71 L116.82 783.57 L117.79 783.32 L118.77 783.55 L119.76 782.68 L120.74 783.43 L121.73 783.68 L122.72 784.33 L123.72 784.11 L124.71 785.4 L125.71 785.25 L126.71 785.05 L127.7 785.57 L128.7 785.9 L129.7 785.53 L130.7 785.87 L131.7 786.28 L132.7 786.12 L133.69 785.61 L134.69 785.77 L135.69 785.36 L136.69 785.27 L137.69 785.76 L138.69 785.06 L139.69 784.5 L140.69 784.64 L141.69 784.72 L142.69 783.88 L143.69 784.34 L144.69 785.27 L145.69 784.94 L146.69 785.51 L147.69 785.63 L148.69 786.2 L149.69 785.66 L150.69 785.57 L151.69 785.66 L152.69 785.25 L153.69 785.75 L154.69 786.44 L155.69 786.63 L156.69 785.39 L157.68 786.27 L158.68 785.47 L159.68 785.16 L160.67 785.57 L161.67 786.61 L162.67 786.75 L163.66 786.6 L164.65 786.86 L165.65 787.44 L166.64 787.79 L167.63 787.48 L168.62 787.39 L169.62 788.11 L170.61 787.31 L171.6 787.71 L172.59 788.21 L173.59 787.72 L174.58 787.31 L175.58 787.57 L176.57 787.27 L177.57 786.78 L178.57 786.86 L179.56 787.33 L180.56 788.07 L181.56 788.25 L182.56 788.39 L183.56 788.35 L184.56 788.83 L185.56 789.47 L186.56 789 L187.56 789.97 L188.56 789.2 L189.56 789.75 L190.56 788.84 L191.56 787.78 L192.56 787.37 L193.56 787.5 L194.56 786.57 L195.56 787.05 L196.56 787.67 L197.56 788.15 L198.56 787.6 L199.56 787.86 L200.56 788.5 L201.56 788.54 L202.56 789.11 L203.56 788.86 L204.56 789.35 L205.56 788.62 L206.56 787.89 L207.56 788.68 L208.56 787.81 L209.56 787.86 L210.56 787.96 L211.56 788.39 L212.56 788.12 L213.56 789.25 L214.56 789.12 L215.56 788.37 L216.56 787.8 L217.56 787.51 L218.56 787.35 L219.56 787.2 L220.56 787.86 L221.56 787.63 L222.56 787.92 L223.56 787.09 L224.56 786.94 L225.56 787.47 L226.56 786.79 L227.56 787.43 L228.56 787.76 L229.56 787.5 L230.56 787.53 L231.56 787.93 L232.56 787.49 L233.56 787.45 L234.56 787.87 L235.56 787.92 L236.56 788.05 L237.5 788.3" fill="none" stroke="#5ec1e6" stroke-width="2.4" stroke-linejoin="round" stroke-linecap="round"/>
<path d="M52 890.5 L53 890.78 L54 890.91 L55 891.18 L56 890.33 L57 890.1 L58 889.97 L58.99 890.02 L59.96 890.98 L60.93 890.59 L61.91 890.91 L62.88 890.33 L63.57 889.53 L64.01 889.42 L64.24 888.27 L64.32 887 L64.36 885.57 L64.38 884.72 L64.4 882.97 L64.42 882.54 L64.44 882.18 L64.46 881.42 L64.49 880.4 L64.51 879.39 L64.53 878.06 L64.56 876.78 L64.58 875.98 L64.6 875.55 L64.61 874.59 L64.63 873.7 L64.64 873.35 L64.66 872.35 L64.67 871.61 L64.68 870.95 L64.7 869.12 L64.71 868.34 L64.72 866.98 L64.73 865.57 L64.74 864.63 L64.75 864.02 L64.76 862.89 L64.77 861.19 L64.78 859.74 L64.79 858.71 L64.8 857.47 L64.81 856.81 L64.82 856.12 L64.83 856.08 L64.83 854.72 L64.84 853.85 L64.85 852.71 L64.86 851.36 L64.87 849.51 L64.88 848.56 L64.89 847.53 L64.9 847.29 L64.91 846.43 L64.92 845.03 L64.94 843.39 L64.95 842.44 L64.96 841.63 L64.98 841.22 L64.99 840.3 L65.01 839.66 L65.03 838.8 L65.04 838.15 L65.06 836.82 L65.08 836.54 L65.09 835.12 L65.11 833.66 L65.13 831.99 L65.15 831.48 L65.17 830.39 L65.2 829.93 L65.23 829.41 L65.27 827.38 L65.32 826.26 L65.4 825.34 L65.53 823.89 L65.8 823.69 L66.31 823.87 L66.68 824.91 L67.08 825.64 L67.47 826.98 L67.85 827.54 L68.22 828.94 L68.58 829.44 L68.93 830.68 L69.27 831.66 L69.6 832.5 L69.93 832.95 L70.25 834.41 L70.57 835.45 L70.87 836.63 L71.17 838.01 L71.46 839.25 L71.75 840.87 L72.02 841.89 L72.29 842.51 L72.55 843.24 L72.81 843.14 L73.07 843.58 L73.33 844.43 L73.59 845.36 L73.85 846.39 L74.11 848.44 L74.37 849.28 L74.64 850.45 L74.91 852.06 L75.17 852.71 L75.45 853.03 L75.73 853.44 L76.02 854.54 L76.33 855.64 L76.63 857 L76.95 858.15 L77.27 859.69 L77.6 860.83 L77.94 862.83 L78.28 862.9 L78.63 863.27 L78.99 864.62 L79.35 864.71 L79.73 865.32 L80.11 866.05 L80.51 866.71 L80.92 867.04 L81.34 867.73 L81.79 868.39 L82.24 869.63 L82.73 871.6 L83.23 872.55 L83.77 873.68 L84.34 874.02 L84.96 874.33 L85.62 875.27 L86.33 875.55 L87.08 876.15 L87.85 876.92 L88.65 877.77 L89.46 878.5 L90.31 878.82 L91.18 879.33 L92.07 879.67 L92.99 879.99 L93.92 880.96 L94.87 881.27 L95.83 880.87 L96.8 881.79 L97.79 881.41 L98.78 881.4 L99.77 881.47 L100.77 882.41 L101.76 882.46 L102.76 882.01 L103.76 882.28 L104.76 882.52 L105.76 882.03 L106.75 881.97 L107.75 882.45 L108.74 882.05 L109.74 881.44 L110.73 882.7 L111.71 883.57 L112.7 884.2 L113.68 884.39 L114.66 884.64 L115.64 884.18 L116.62 883.87 L117.6 883.9 L118.58 884.41 L119.57 883.97 L120.55 884.81 L121.54 884.77 L122.52 885.07 L123.51 885.16 L124.5 885.87 L125.49 885.65 L126.49 885.19 L127.48 884.85 L128.47 886.05 L129.46 886.32 L130.45 886.23 L131.45 886.73 L132.44 886.9 L133.44 887.31 L134.43 886.94 L135.43 887.76 L136.42 887.09 L137.42 887.51 L138.41 886.21 L139.41 886.5 L140.41 886.94 L141.41 886.6 L142.4 886.69 L143.4 886.79 L144.4 887.25 L145.4 887.28 L146.4 888.24 L147.4 888.25 L148.4 887.9 L149.39 888.15 L150.39 888.08 L151.39 887.85 L152.39 887.78 L153.39 888.29 L154.39 888.99 L155.39 888.98 L156.39 888.04 L157.39 888.25 L158.39 888.18 L159.39 887.44 L160.39 888.18 L161.39 888.32 L162.39 889.33 L163.39 889.02 L164.39 889.26 L165.39 888.84 L166.39 889.29 L167.39 889.45 L168.39 889.11 L169.39 889.01 L170.39 888.69 L171.39 888.76 L172.39 888.58 L173.39 887.89 L174.39 887.62 L175.39 888.45 L176.39 888.2 L177.38 888.41 L178.38 888.23 L179.38 888.44 L180.38 887.41 L181.38 887.25 L182.38 887.37 L183.38 887.8 L184.37 887.76 L185.37 887.69 L186.37 887.76 L187.37 888.21 L188.37 888 L189.37 887.57 L190.37 888.26 L191.37 888.42 L192.37 887.69 L193.37 888.65 L194.37 889 L195.36 888.36 L196.36 889.07 L197.36 889.3 L198.35 888.86 L199.35 888.82 L200.34 888.89 L201.34 888.53 L202.33 888.42 L203.33 888.16 L204.32 889.12 L205.32 888.63 L206.31 888.41 L207.31 889.04 L208.3 889 L209.3 889.1 L210.3 889.63 L211.3 889.76 L212.3 889.81 L213.3 889.55 L214.29 889.02 L215.29 889.29 L216.29 889.17 L217.29 889.13 L218.29 889.82 L219.29 890.44 L220.29 890.58 L221.29 890.59 L222.29 890.83 L223.29 890.41 L224.29 890.12 L225.29 889.22 L226.29 888.78 L227.29 889 L228.29 889.45 L229.29 888.79 L230.29 888.61 L231.29 888.9 L232.29 889.05 L233.29 888.99 L234.29 889.6 L235.29 889.37 L236.29 889.59 L237.29 889.74 L237.5 889.7" fill="none" stroke="#5ec1e6" stroke-width="2.4" stroke-linejoin="round" stroke-linecap="round"/>
<path d="M52 890.5 L52.88 890.21 L53.76 889.76 L54.65 889.56 L55.53 888.99 L56.42 888.33 L57.31 888.4 L58.21 888.2 L59.11 888.69 L60.01 891.62 L60.88 890.8 L61.66 892.31 L62.19 891.59 L62.48 890.94 L62.69 892.66 L62.86 892.09 L63 894.6 L63.15 894.47 L63.31 895.64 L63.64 895.31 L63.84 895.06 L63.93 895.64 L64.01 897.59 L64.07 894.57 L64.12 892.87 L64.17 890.51 L64.21 890.93 L64.26 889.25 L64.3 888.91 L64.34 888.12 L64.38 886.36 L64.41 885.65 L64.46 884.85 L64.5 884.59 L64.54 882.55 L64.58 882.05 L64.63 879.59 L64.68 879.48 L64.72 879.06 L64.77 878.07 L64.82 878.01 L64.86 876.38 L64.91 874.76 L64.95 874.38 L64.99 872.96 L65.04 872.96 L65.08 871.68 L65.12 870.11 L65.16 869.82 L65.21 868.63 L65.25 867.56 L65.29 866.52 L65.33 866.83 L65.38 865.68 L65.42 865.82 L65.46 865.22 L65.5 864.68 L65.55 863.38 L65.59 861.08 L65.63 860.28 L65.68 858.96 L65.72 859.09 L65.76 858.81 L65.81 857.68 L65.86 855.61 L65.9 854.71 L65.95 853.86 L65.99 852.6 L66.04 851.73 L66.09 850.44 L66.14 850.14 L66.19 849.81 L66.25 849.93 L66.3 849.54 L66.36 848.23 L66.42 846.74 L66.47 846.32 L66.54 846.02 L66.6 844.02 L66.67 841.78 L66.74 841.32 L66.82 840.91 L66.89 839.89 L66.97 839.81 L67.05 839.34 L67.14 838.52 L67.23 835.88 L67.32 834.57 L67.41 834.29 L67.51 832.53 L67.61 831.99 L67.71 831.12 L67.82 830.5 L67.93 829.48 L68.04 828.62 L68.16 828.24 L68.28 826.23 L68.41 825.52 L68.54 825.01 L68.68 824.77 L68.86 824.59 L69.32 823.9 L70.19 824.3 L70.88 823.94 L71.53 824.93 L72.22 826.16 L72.92 827.51 L73.63 827.41 L74.33 827.62 L75.02 827.07 L75.69 826.42 L76.34 828.41 L76.98 828.19 L77.61 829.25 L78.22 828.43 L78.83 829.24 L79.42 830.72 L80.01 831.06 L80.6 831.83 L81.17 833.37 L81.74 835.08 L82.3 834.97 L82.84 835.07 L83.37 835.54 L83.89 836.23 L84.4 838.26 L84.91 840 L85.43 838.28 L85.96 838.9 L86.5 839.82 L87.06 841.78 L87.64 842.03 L88.24 842.45 L88.85 843.67 L89.46 846.13 L90.09 844.27 L90.71 844.79 L91.35 845.92 L91.99 847.87 L92.63 847.18 L93.28 847.28 L93.92 846.53 L94.58 848.83 L95.24 849.85 L95.9 851.37 L96.56 852.34 L97.22 853.29 L97.88 853.4 L98.54 855.15 L99.21 855.9 L99.88 854.65 L100.57 855.17 L101.26 855.56 L101.96 855.66 L102.69 855.59 L103.42 856.9 L104.16 857.21 L104.93 857.54 L105.7 857.94 L106.48 859.08 L107.27 860.03 L108.07 859.66 L108.88 858.25 L109.68 858.44 L110.5 859.66 L111.32 860.68 L112.14 862.04 L112.96 862.3 L113.78 863.83 L114.6 863.07 L115.42 863.69 L116.25 864.31 L117.07 864.06 L117.9 864.71 L118.72 863.98 L119.55 865.59 L120.38 866.22 L121.21 865.39 L122.04 865.89 L122.87 867.11 L123.71 867.64 L124.54 867.58 L125.38 867.84 L126.22 868.07 L127.06 866.44 L127.91 868.05 L128.75 868.62 L129.6 867.44 L130.45 868.31 L131.31 867.9 L132.16 869.3 L133.02 869.28 L133.88 870.56 L134.74 870.41 L135.61 873.62 L136.47 872.1 L137.34 873.82 L138.2 872.67 L139.07 872.39 L139.93 872.97 L140.8 872.59 L141.66 871.7 L142.53 873 L143.39 873.08 L144.25 874.37 L145.11 874.9 L145.97 874.52 L146.82 873.95 L147.68 873.85 L148.54 874.35 L149.4 876.7 L150.26 876.63 L151.12 875.16 L151.98 875.52 L152.84 877.27 L153.71 877.39 L154.58 877.35 L155.45 877.32 L156.32 878.27 L157.2 877.79 L158.08 876.08 L158.96 875.57 L159.85 876.67 L160.74 876.09 L161.63 877.28 L162.52 876.23 L163.41 878.55 L164.31 879 L165.2 876.64 L166.09 876.57 L166.99 877.56 L167.88 878.07 L168.77 879.53 L169.67 879.37 L170.56 878.84 L171.45 877.44 L172.34 877.75 L173.22 878.43 L174.11 880.94 L175 880.26 L175.88 879.92 L176.77 880.05 L177.66 880.49 L178.54 880.05 L179.43 880.27 L180.32 881.6 L181.21 882.75 L182.1 881.46 L182.99 879.72 L183.88 878.84 L184.78 880.91 L185.67 881.43 L186.57 883.85 L187.46 882.31 L188.36 881.17 L189.26 881.13 L190.16 881.73 L191.06 882.77 L191.96 883.31 L192.86 883.84 L193.75 884.3 L194.65 884.71 L195.55 881.69 L196.45 881.35 L197.35 880.39 L198.25 880.66 L199.15 882.05 L200.05 882.02 L200.95 882.68 L201.85 882.8 L202.75 884.14 L203.65 883.01 L204.55 883.46 L205.44 882.96 L206.34 883.92 L207.24 882.96 L208.14 882.94 L209.04 883.02 L209.94 882.28 L210.84 882.46 L211.74 881.42 L212.64 883.47 L213.53 884.02 L214.43 884.22 L215.33 884.59 L216.23 883.19 L217.13 883.55 L218.02 881.77 L218.92 883.81 L219.82 884.34 L220.71 884.92 L221.61 884.71 L222.5 882.1 L223.4 881.9 L224.29 882.75 L225.18 883.45 L226.07 884.34 L226.96 885.09 L227.85 884.99 L228.73 885.84 L229.6 885.62 L230.48 885.86 L231.35 884.51 L232.22 884.71 L233.09 884.02 L233.96 885.43 L234.82 886.44 L235.69 886.84 L236.55 886.5 L237.42 887.04 L237.5 887.1" fill="none" stroke="#332e96" stroke-width="3.3" stroke-linejoin="round" stroke-linecap="round"/>
<line x1="180" y1="905.7" x2="214.5" y2="905.7" stroke="#111" stroke-width="3"/>
<text x="198.1" y="924.2" font-size="17" text-anchor="middle" fill="#1a1a1a">100ms</text>
<line x1="305.8" y1="735" x2="305.8" y2="869.8" stroke="#1a1a1a" stroke-width="1.6"/>
<line x1="305" y1="869" x2="445" y2="869" stroke="#1a1a1a" stroke-width="1.6"/>
<line x1="379" y1="737" x2="379" y2="868" stroke="#222" stroke-width="1.5" stroke-dasharray="7.5 3.3"/>
<rect x="318.75" y="823.2" width="24.25" height="45.8" fill="#59abd8" stroke="#1a1a1a" stroke-width="1.6"/>
<line x1="329.88" y1="822.5" x2="329.88" y2="820" stroke="#1a1a1a" stroke-width="1.5"/>
<line x1="328.27" y1="820" x2="331.48" y2="820" stroke="#1a1a1a" stroke-width="1.5"/>
<text x="330.88" y="865.7" font-size="16" text-anchor="middle" fill="#fff">47</text>
<line x1="330.88" y1="869" x2="330.88" y2="873" stroke="#1a1a1a" stroke-width="1.5"/>
<rect x="346.25" y="773.2" width="23.75" height="95.8" fill="#332e96" stroke="#1a1a1a" stroke-width="1.6"/>
<line x1="357.12" y1="772.5" x2="357.12" y2="761.7" stroke="#1a1a1a" stroke-width="1.5"/>
<line x1="355.52" y1="761.7" x2="358.73" y2="761.7" stroke="#1a1a1a" stroke-width="1.5"/>
<text x="358.12" y="865.7" font-size="16" text-anchor="middle" fill="#fff">7</text>
<line x1="358.12" y1="869" x2="358.12" y2="873" stroke="#1a1a1a" stroke-width="1.5"/>
<rect x="388" y="821.95" width="23.25" height="47.05" fill="#59abd8" stroke="#1a1a1a" stroke-width="1.6"/>
<line x1="398.62" y1="821.25" x2="398.62" y2="817.5" stroke="#1a1a1a" stroke-width="1.5"/>
<line x1="397.02" y1="817.5" x2="400.23" y2="817.5" stroke="#1a1a1a" stroke-width="1.5"/>
<text x="399.62" y="865.7" font-size="16" text-anchor="middle" fill="#fff">23</text>
<line x1="399.62" y1="869" x2="399.62" y2="873" stroke="#1a1a1a" stroke-width="1.5"/>
<rect x="415" y="755.7" width="23.75" height="113.3" fill="#332e96" stroke="#1a1a1a" stroke-width="1.6"/>
<line x1="425.88" y1="755" x2="425.88" y2="746.7" stroke="#1a1a1a" stroke-width="1.5"/>
<line x1="424.27" y1="746.7" x2="427.48" y2="746.7" stroke="#1a1a1a" stroke-width="1.5"/>
<text x="426.88" y="865.7" font-size="16" text-anchor="middle" fill="#fff">22</text>
<line x1="426.88" y1="869" x2="426.88" y2="873" stroke="#1a1a1a" stroke-width="1.5"/>
<line x1="330.5" y1="742" x2="357.5" y2="742" stroke="#1a1a1a" stroke-width="1.5"/>
<line x1="330.5" y1="741.3" x2="330.5" y2="745.5" stroke="#1a1a1a" stroke-width="1.5"/>
<line x1="357.5" y1="741.3" x2="357.5" y2="745.5" stroke="#1a1a1a" stroke-width="1.5"/>
<text x="344" y="744" font-size="14" text-anchor="middle" fill="#1a1a1a">*</text>
<line x1="398.5" y1="742" x2="425.8" y2="742" stroke="#1a1a1a" stroke-width="1.5"/>
<line x1="398.5" y1="741.3" x2="398.5" y2="745.5" stroke="#1a1a1a" stroke-width="1.5"/>
<line x1="425.8" y1="741.3" x2="425.8" y2="745.5" stroke="#1a1a1a" stroke-width="1.5"/>
<text x="412.15" y="744" font-size="14" text-anchor="middle" fill="#1a1a1a">*</text>
<text x="346.5" y="729.3" font-size="21.5" text-anchor="middle" fill="#1a1a1a">LA</text>
<text x="414.5" y="729" font-size="21.5" text-anchor="middle" fill="#1a1a1a">BA</text>
<text x="302" y="741" font-size="16" text-anchor="end" fill="#1a1a1a">150</text>
<text x="302" y="787.1" font-size="16" text-anchor="end" fill="#1a1a1a">100</text>
<text x="301.3" y="830.6" font-size="16" text-anchor="end" fill="#1a1a1a">50</text>
<text x="299" y="874.3" font-size="16" text-anchor="end" fill="#1a1a1a">0</text>
<text x="0" y="0" font-size="17" text-anchor="middle" fill="#1a1a1a" transform="translate(272.5 798.1) rotate(-90)">NMDAR tau (ms)</text>
<text x="0" y="0" font-size="17" text-anchor="end" fill="#1a1a1a" transform="translate(339.2 883) rotate(-45)">GluN1/2A</text>
<text x="0" y="0" font-size="17" text-anchor="end" fill="#1a1a1a" transform="translate(365.9 883) rotate(-45)">GluN1/2B</text>
<text x="0" y="0" font-size="17" text-anchor="end" fill="#1a1a1a" transform="translate(407.9 883) rotate(-45)">GluN1/2A</text>
<text x="0" y="0" font-size="17" text-anchor="end" fill="#1a1a1a" transform="translate(435.2 883) rotate(-45)">GluN1/2B</text>
<line x1="507.5" y1="738" x2="507.5" y2="868.3" stroke="#1a1a1a" stroke-width="1.6"/>
<line x1="506.7" y1="867.5" x2="681.5" y2="867.5" stroke="#1a1a1a" stroke-width="1.6"/>
<line x1="593.8" y1="739.5" x2="593.8" y2="867" stroke="#222" stroke-width="1.5" stroke-dasharray="7.5 3.3"/>
<rect x="515" y="839.5" width="24.5" height="28" fill="#8c8c8c" stroke="#1a1a1a" stroke-width="1.6"/>
<text x="527" y="865.5" font-size="16" text-anchor="middle" fill="#fff">11</text>
<line x1="527" y1="867.5" x2="527" y2="871.5" stroke="#1a1a1a" stroke-width="1.5"/>
<rect x="542" y="753" width="24.2" height="114.5" fill="#59abd8" stroke="#1a1a1a" stroke-width="1.6"/>
<text x="554" y="865.5" font-size="16" text-anchor="middle" fill="#fff">47</text>
<line x1="554" y1="867.5" x2="554" y2="871.5" stroke="#1a1a1a" stroke-width="1.5"/>
<rect x="568.2" y="850.5" width="24.3" height="17" fill="#332e96" stroke="#1a1a1a" stroke-width="1.6"/>
<text x="580.5" y="865.5" font-size="16" text-anchor="middle" fill="#fff">7</text>
<line x1="580.5" y1="867.5" x2="580.5" y2="871.5" stroke="#1a1a1a" stroke-width="1.5"/>
<text x="608.5" y="865.5" font-size="16" text-anchor="middle" fill="#222">0</text>
<line x1="608.5" y1="867.5" x2="608.5" y2="871.5" stroke="#1a1a1a" stroke-width="1.5"/>
<rect x="623.2" y="785.7" width="24" height="81.8" fill="#59abd8" stroke="#1a1a1a" stroke-width="1.6"/>
<text x="635.5" y="865.5" font-size="16" text-anchor="middle" fill="#fff">23</text>
<line x1="635.5" y1="867.5" x2="635.5" y2="871.5" stroke="#1a1a1a" stroke-width="1.5"/>
<rect x="650.2" y="789.5" width="24.3" height="78" fill="#332e96" stroke="#1a1a1a" stroke-width="1.6"/>
<text x="662" y="865.5" font-size="16" text-anchor="middle" fill="#fff">22</text>
<line x1="662" y1="867.5" x2="662" y2="871.5" stroke="#1a1a1a" stroke-width="1.5"/>
<text x="555.3" y="742.5" font-size="21.5" text-anchor="middle" fill="#1a1a1a">LA</text>
<text x="638" y="742.5" font-size="21.5" text-anchor="middle" fill="#1a1a1a">BA</text>
<text x="503" y="745.1" font-size="16" text-anchor="end" fill="#1a1a1a">80</text>
<text x="503" y="778.1" font-size="16" text-anchor="end" fill="#1a1a1a">60</text>
<text x="503" y="810.6" font-size="16" text-anchor="end" fill="#1a1a1a">40</text>
<text x="503" y="842.6" font-size="16" text-anchor="end" fill="#1a1a1a">20</text>
<text x="503" y="873.6" font-size="16" text-anchor="end" fill="#1a1a1a">0</text>
<text x="0" y="0" font-size="17" text-anchor="middle" fill="#1a1a1a" transform="translate(480.9 803) rotate(-90)">% GAD67 cells</text>
<text x="0" y="0" font-size="17" text-anchor="end" fill="#1a1a1a" transform="translate(535 883) rotate(-45)">No NMDAR</text>
<text x="0" y="0" font-size="17" text-anchor="end" fill="#1a1a1a" transform="translate(559.5 883) rotate(-45)">GluN1/2A</text>
<text x="0" y="0" font-size="17" text-anchor="end" fill="#1a1a1a" transform="translate(586 883) rotate(-45)">GluN1/2B</text>
<text x="0" y="0" font-size="17" text-anchor="end" fill="#1a1a1a" transform="translate(615 883) rotate(-45)">No NMDAR</text>
<text x="0" y="0" font-size="17" text-anchor="end" fill="#1a1a1a" transform="translate(641 883) rotate(-45)">GluN1/2A</text>
<text x="0" y="0" font-size="17" text-anchor="end" fill="#1a1a1a" transform="translate(667.5 883) rotate(-45)">GluN1/2B</text>
</svg>
</body></html>
